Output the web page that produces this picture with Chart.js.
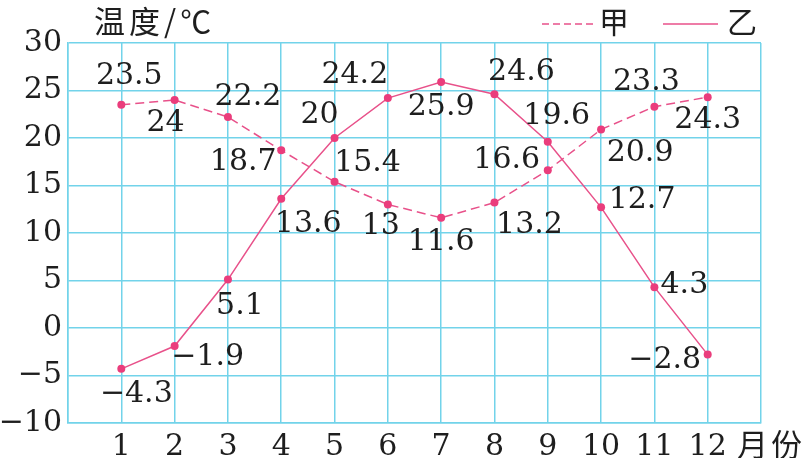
<!DOCTYPE html>
<html><head><meta charset="utf-8">
<script src="https://cdn.jsdelivr.net/npm/chart.js@4.4.0/dist/chart.umd.min.js"></script>
<style>html,body{margin:0;padding:0;background:#fff;}</style>
</head><body>
<canvas id="c" width="804" height="458" style="width:804px;height:458px;display:block"></canvas>
<script>
const months = [1,2,3,4,5,6,7,8,9,10,11,12];
const jia = [23.5,24,22.2,18.7,15.4,13,11.6,13.2,16.6,20.9,23.3,24.3];
const yi = [-4.3,-1.9,5.1,13.6,20,24.2,25.9,24.6,19.6,12.7,4.3,-2.8];
const yTicks = [-10,-5,0,5,10,15,20,25,30];
const seriesNames = ['甲','乙'];
const yTitle = '温度/℃';
const xTitle = '月份';

// value-label placement offsets relative to each point (px)
const jiaOff = [[8,-29],[-9,23],[20,-20],[-38,12],[33,-18],[-7,22],[0,24],[35,23],[-41,-10],[39,24],[-8,-24],[0,23]];
const yiOff  = [[15,25],[33,11],[12,27],[27,25],[-15,-23],[-33,-23],[0,25],[27,-22],[9,-26],[41,-7],[30,-2],[-43,6]];

const PINK = '#e8518a';
const DOT = '#ea3d7c';
const GRID = '#72d3ea';
const INK = '#1e1e1e';
const NUMFONT = '"DejaVu Serif", serif';
const CJK = '"Noto Sans CJK SC", sans-serif';

const fmt = v => String(v).replace('-', '\u2212');

const labelPlugin = {
  id: 'labels',
  afterDatasetsDraw(chart) {
    const ctx = chart.ctx;
    ctx.save();
    ctx.fillStyle = INK;
    ctx.font = '30px ' + NUMFONT;
    ctx.textAlign = 'center';
    ctx.textBaseline = 'middle';
    const offs = [jiaOff, yiOff];
    chart.data.datasets.forEach((ds, i) => {
      chart.getDatasetMeta(i).data.forEach((pt, j) => {
        ctx.fillText(fmt(ds.data[j].y), pt.x + offs[i][j][0], pt.y + offs[i][j][1]);
      });
    });
    // axis titles
    ctx.font = '31px ' + CJK;
    ctx.textAlign = 'left';
    ctx.letterSpacing = '4px';
    ctx.fillText(yTitle, 94, 21);
    ctx.letterSpacing = '3px';
    ctx.fillText(xTitle, 737, 444);
    ctx.letterSpacing = '0px';
    // legend
    ctx.strokeStyle = PINK;
    ctx.lineWidth = 1.5;
    ctx.setLineDash([7, 4]);
    ctx.beginPath(); ctx.moveTo(542, 24); ctx.lineTo(597, 24); ctx.stroke();
    ctx.setLineDash([]);
    ctx.beginPath(); ctx.moveTo(663, 24); ctx.lineTo(718, 24); ctx.stroke();
    ctx.font = '30px ' + CJK;
    ctx.fillText(seriesNames[0], 599, 22);
    ctx.fillText(seriesNames[1], 727, 22);
    ctx.restore();
  }
};

new Chart(document.getElementById('c'), {
  type: 'line',
  data: {
    datasets: [
      {
        label: seriesNames[0],
        data: months.map((m, i) => ({x: m, y: jia[i]})),
        borderColor: PINK, borderWidth: 1.5, borderDash: [9, 5],
        pointRadius: 4, pointBackgroundColor: DOT, pointBorderWidth: 0,
        tension: 0
      },
      {
        label: seriesNames[1],
        data: months.map((m, i) => ({x: m, y: yi[i]})),
        borderColor: PINK, borderWidth: 1.5,
        pointRadius: 4, pointBackgroundColor: DOT, pointBorderWidth: 0,
        tension: 0
      }
    ]
  },
  options: {
    responsive: false,
    animation: false,
    devicePixelRatio: 1,
    layout: {padding: {top: 43, right: 43, left: 0, bottom: 0}},
    plugins: {legend: {display: false}, tooltip: {enabled: false}},
    scales: {
      x: {
        type: 'linear', min: 0, max: 13,
        afterFit: s => { s.height = 35; },
        ticks: {
          stepSize: 1, autoSkip: false, maxRotation: 0, padding: 6,
          color: INK, font: {family: NUMFONT, size: 30},
          callback: v => (v >= months[0] && v <= months[months.length - 1]) ? String(v) : ''
        },
        grid: {color: GRID, lineWidth: 1.5, drawTicks: false},
        border: {color: GRID, width: 1.5}
      },
      y: {
        min: yTicks[0], max: yTicks[yTicks.length - 1],
        afterFit: s => { s.width = 68; },
        afterBuildTicks: s => { s.ticks = yTicks.map(v => ({value: v})); },
        ticks: {
          padding: 6, color: INK, font: {family: NUMFONT, size: 30},
          callback: v => fmt(v)
        },
        grid: {color: GRID, lineWidth: 1.5, drawTicks: false},
        border: {color: GRID, width: 1.5}
      }
    }
  },
  plugins: [labelPlugin]
});
</script>
</body></html>
